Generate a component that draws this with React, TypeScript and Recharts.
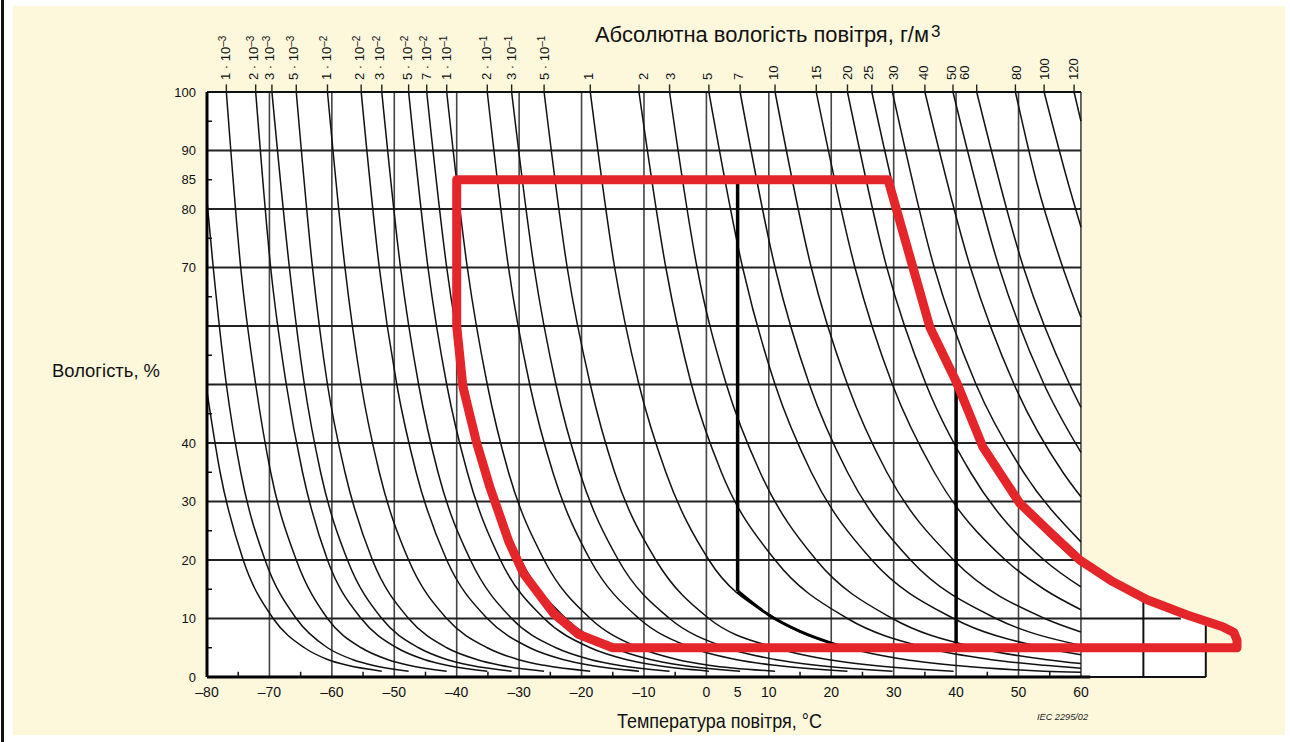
import React from 'react';
import { ComposedChart, Line, Area, XAxis, YAxis, ReferenceLine } from 'recharts';

const W = 1290;
const H = 742;

const SANS = "'Liberation Sans', Arial, sans-serif";
const NARROW = "'Liberation Sans Narrow', 'Arial Narrow', 'Liberation Sans', sans-serif";

// осі: температура, °C / вологість, %
const X_TICKS = [-80, -70, -60, -50, -40, -30, -20, -10, 0, 5, 10, 20, 30, 40, 50, 60];
const X_MINOR = [-75, -65, -55, -45, -35, -25, -15, -5, 15, 25, 35, 45, 55];
const X_GRID = [-70, -60, -50, -40, -30, -20, -10, 0, 10, 20, 30, 40, 50, 60];
const Y_TICKS = [0, 10, 20, 30, 40, 70, 80, 85, 90, 100];
const Y_GRID = [10, 20, 30, 40, 50, 60, 70, 80, 90];
const Y_MINOR = [5, 15, 25, 35, 45, 55, 65, 75, 85, 95];

// підписи абсолютної вологості (г/м3) зверху
const ABS_BASE = ['1 · 10', '2 · 10', '3 · 10', '5 · 10', '1 · 10', '2 · 10', '3 · 10', '5 · 10', '7 · 10', '1 · 10',
  '2 · 10', '3 · 10', '5 · 10', '1', '2', '3', '5', '7', '10', '15', '20', '25', '30', '40', '50', '60', '80', '100', '120'];
const ABS_EXP = ['–3', '–3', '–3', '–3', '–2', '–2', '–2', '–2', '–2', '–1', '–1', '–1', '–1',
  '', '', '', '', '', '', '', '', '', '', '', '', '', '', '', ''];
const ABS_LABEL_T = [-77.1, -72.6, -70.0, -66.2, -60.9, -55.5, -52.4, -47.9, -44.8, -41.7, -35.3, -31.2, -25.9,
  -18.9, -10.1, -5.8, 0.2, 5.2, 10.7, 17.7, 22.6, 26.0, 30.0, 34.8, 39.3, 41.4, 49.7, 54.2, 58.8];

// лінії сталої абсолютної вологості: [температура, вологість]
const CURVES: number[][][] = [
  [[-80, 48.8], [-77.9, 35], [-74.2, 20], [-69.4, 10], [-64.4, 5], [-60.7, 3], [-57.5, 2], [-52.0, 1]], // 3e-4
  [[-80, 81.4], [-79.0, 70], [-76.9, 50], [-74.6, 35], [-70.7, 20], [-65.7, 10], [-60.7, 5], [-56.7, 3], [-53.5, 2], [-47.7, 1]], // 5e-4
  [[-76.9, 100], [-74.6, 70], [-72.2, 50], [-69.8, 35], [-65.7, 20], [-60.7, 10], [-55.3, 5], [-51.1, 3], [-47.7, 2], [-41.6, 1]], // 1e-3
  [[-72.2, 100], [-69.8, 70], [-67.3, 50], [-64.7, 35], [-60.7, 20], [-55.3, 10], [-49.6, 5], [-45.2, 3], [-41.6, 2], [-35.1, 1]], // 2e-3
  [[-69.6, 100], [-66.8, 70], [-64.4, 50], [-61.8, 35], [-57.5, 20], [-52.0, 10], [-46.1, 5], [-41.6, 3], [-37.8, 2], [-31.2, 1]], // 3e-3
  [[-65.7, 100], [-63.1, 70], [-60.7, 50], [-57.9, 35], [-53.5, 20], [-47.7, 10], [-41.6, 5], [-36.8, 3], [-33.0, 2], [-26.0, 1]], // 5e-3
  [[-60.7, 100], [-57.9, 70], [-55.3, 50], [-52.4, 35], [-47.7, 20], [-41.6, 10], [-35.1, 5], [-30.2, 3], [-26.0, 2], [-18.6, 1]], // 1e-2
  [[-55.3, 100], [-52.4, 70], [-49.6, 50], [-46.5, 35], [-41.6, 20], [-35.1, 10], [-28.3, 5], [-23.0, 3], [-18.6, 2], [-10.8, 1]], // 2e-2
  [[-52.0, 100], [-49.0, 70], [-46.1, 50], [-43.0, 35], [-37.8, 20], [-31.2, 10], [-24.1, 5], [-18.6, 3], [-14.1, 2], [-5.9, 1]], // 3e-2
  [[-47.7, 100], [-44.6, 70], [-41.6, 50], [-38.3, 35], [-33.0, 20], [-26.0, 10], [-18.6, 5], [-12.9, 3], [-8.1, 2], [0.4, 1]], // 5e-2
  [[-44.8, 100], [-41.6, 70], [-38.5, 50], [-35.1, 35], [-29.7, 20], [-22.5, 10], [-14.9, 5], [-9.0, 3], [-4.0, 2], [5.4, 1]], // 7e-2
  [[-41.6, 100], [-38.3, 70], [-35.1, 50], [-31.7, 35], [-26.0, 20], [-18.6, 10], [-10.8, 5], [-4.7, 3], [0.4, 2], [11.0, 1]], // 0.1
  [[-35.1, 100], [-31.7, 70], [-28.3, 50], [-24.6, 35], [-18.6, 20], [-10.8, 10], [-2.4, 5], [4.7, 3], [11.0, 2], [22.6, 1]], // 0.2
  [[-31.2, 100], [-27.6, 70], [-24.1, 50], [-20.3, 35], [-14.1, 20], [-5.9, 10], [3.2, 5], [11.0, 3], [17.6, 2], [29.8, 1]], // 0.3
  [[-26.0, 100], [-22.3, 70], [-18.6, 50], [-14.7, 35], [-8.1, 20], [0.4, 10], [11.0, 5], [19.4, 3], [26.5, 2], [39.6, 1]], // 0.5
  [[-18.6, 100], [-14.7, 70], [-10.8, 50], [-6.5, 35], [0.4, 20], [11.0, 10], [22.6, 5], [31.8, 3], [39.6, 2], [54.1, 1], [60, 0.8]], // 1
  [[-10.8, 100], [-6.5, 70], [-2.4, 50], [2.4, 35], [11.0, 20], [22.6, 10], [35.2, 5], [45.4, 3], [54.1, 2], [60, 1.5]], // 2
  [[-5.9, 100], [-1.5, 70], [3.2, 50], [8.6, 35], [17.6, 20], [29.8, 10], [43.3, 5], [54.2, 3], [60, 2.3]], // 3
  [[0.4, 100], [5.8, 70], [11.0, 50], [16.8, 35], [26.5, 20], [39.6, 10], [54.1, 5], [60, 3.8]], // 5
  [[5.4, 100], [11.0, 70], [16.5, 50], [22.6, 35], [32.7, 20], [46.4, 10], [60, 5.4]], // 7
  [[11.0, 100], [16.8, 70], [22.6, 50], [28.9, 35], [39.6, 20], [54.2, 10], [60, 7.7]], // 10
  [[17.6, 100], [23.8, 70], [29.8, 50], [36.5, 35], [47.9, 20], [54.1, 15], [60, 11.5]], // 15
  [[22.6, 100], [28.9, 70], [35.2, 50], [42.3, 35], [54.1, 20], [60, 15.4]], // 20
  [[26.5, 100], [33.1, 70], [39.6, 50], [46.9, 35], [54.1, 25], [60, 19.2]], // 25
  [[29.8, 100], [36.5, 70], [43.2, 50], [50.8, 35], [60, 23.1]], // 30
  [[35.0, 100], [42.3, 70], [49.3, 50], [57.1, 35], [60, 30.8]], // 40
  [[39.5, 100], [46.9, 70], [54.1, 50], [60, 38.4]], // 50
  [[43.3, 100], [50.8, 70], [58.2, 50], [60, 46.1]], // 60
  [[49.5, 100], [52.8, 85], [57.1, 70], [60, 61.5]], // 80
  [[54.1, 100], [57.8, 85], [60, 76.9]], // 100
  [[58.9, 100], [60, 95.0]], // 120
];

// червоний контур
const RED_T = [-40, 29.1, 35.8, 40.1, 44.3, 50.2, 55.0, 59.8, 65.1, 70.6, 77.0, 82.7, 84.5, 85.0, 85.0,
  -15.0, -20.5, -24.5, -29.3, -31.6, -34.7, -36.8, -39.0, -40, -40];
const RED_RH = [85, 85, 59.8, 50.3, 39.3, 29.7, 24.8, 20.0, 16.3, 13.2, 10.6, 8.6, 7.6, 6.3, 5.0,
  5.0, 7.3, 10.9, 17.7, 23, 32.5, 40, 49.6, 60, 85];

// білий фон під кривою праворуч від 60 °C
const WHITE_T = [60, 65.1, 70.6, 77.0, 80];
const WHITE_RH = [20, 16.3, 13.2, 10.6, 9.6];

// чорні лінії
const BLACK_5_RH = [85, 14.7];
const BLACK_40_RH = [50, 5];
const BLACK_CURVE_T = [5, 10, 15, 20, 21.5];
const BLACK_CURVE_RH = [14.7, 10.6, 7.8, 5.8, 5.3];

const pts = (arr: number[][]) => arr.map(([t, rh]) => ({ t, rh }));
const zip = (ts: number[], rs: number[]) => ts.map((t, i) => ({ t, rh: rs[i] }));
const seg = (t1: number, r1: number, t2: number, r2: number) => [{ t: t1, rh: r1 }, { t: t2, rh: r2 }];

const lineProps = { dataKey: 'rh', dot: false, activeDot: false, isAnimationActive: false, legendType: 'none' as const };

const fmtX = (v: number) => (v < 0 ? '–' + Math.abs(v) : String(v));

function BottomTick(props: any) {
  const { x, y, payload } = props;
  return (
    <text x={x} y={y + 12} textAnchor="middle" fontFamily={SANS} fontSize={14} fill="#111">
      {fmtX(payload.value)}
    </text>
  );
}

function LeftTick(props: any) {
  const { x, y, payload } = props;
  return (
    <text x={x - 3} y={y + 4.5} textAnchor="end" fontFamily={SANS} fontSize={13} fill="#111">
      {payload.value}
    </text>
  );
}

function TopTick(props: any) {
  const { x, payload } = props;
  const i = ABS_LABEL_T.indexOf(payload.value);
  return (
    <text transform={`translate(${x + 4.5},80) rotate(-90)`} fontFamily={SANS} fontSize={13} fill="#111">
      {ABS_BASE[i]}
      {ABS_EXP[i] ? (
        <tspan fontSize={10} dy={-4}>{ABS_EXP[i]}</tspan>
      ) : null}
    </text>
  );
}

export default function App() {
  const curveTops = CURVES.filter((c) => c[0][1] === 100).map((c) => c[0][0]);
  return (
    <div style={{ position: 'absolute', left: 0, top: 0, width: W, height: H, background: '#fff', overflow: 'hidden' }}>
      <div style={{ position: 'absolute', left: 1, top: 0, width: 3, height: H, background: '#111' }} />
      <div style={{ position: 'absolute', left: 13, top: 6, width: 1272, height: 729, background: '#fdf8dc' }} />
      <div style={{ position: 'absolute', left: 0, top: 0 }}>
        <ComposedChart width={W} height={H} margin={{ top: 62, right: 40.5, bottom: 35, left: 147 }}>
          <XAxis dataKey="t" type="number" domain={[-80, 87]} ticks={X_TICKS} interval={0} height={30}
            axisLine={false} tickLine={false} tick={(p: any) => <BottomTick {...p} />} />
          <XAxis xAxisId="top" orientation="top" dataKey="t" type="number" domain={[-80, 87]} allowDataOverflow
            ticks={ABS_LABEL_T} interval={0} height={30} axisLine={false} tickLine={false}
            tick={(p: any) => <TopTick {...p} />} />
          <YAxis type="number" domain={[0, 100]} ticks={Y_TICKS} interval={0} width={60}
            axisLine={{ stroke: '#000', strokeWidth: 3 }} tickLine={false} tick={(p: any) => <LeftTick {...p} />} />

          <Area data={[{ t: -80, rh: 100 }, { t: 60, rh: 100 }]} dataKey="rh" type="linear" fill="#fff" fillOpacity={1}
            stroke="none" dot={false} activeDot={false} isAnimationActive={false} />
          <Area data={zip(WHITE_T, WHITE_RH)} dataKey="rh" type="linear" fill="#fff" fillOpacity={1}
            stroke="none" dot={false} activeDot={false} isAnimationActive={false} />

          {X_GRID.map((t) => (
            <Line key={'vx' + t} {...lineProps} data={seg(t, 0, t, 100)} type="linear" stroke="#444" strokeWidth={1.6} />
          ))}
          {Y_GRID.map((r) => (
            <Line key={'hy' + r} {...lineProps} data={seg(-80, r, 60, r)} type="linear" stroke="#222" strokeWidth={2} />
          ))}
          <Line {...lineProps} data={seg(-80, 100, 60, 100)} type="linear" stroke="#111" strokeWidth={2} />

          {CURVES.map((c, i) => (
            <Line key={'c' + i} {...lineProps} data={pts(c)} type="monotone" stroke="#111" strokeWidth={1.5} />
          ))}

          <Line {...lineProps} data={seg(-80, 0, 61.5, 0)} type="linear" stroke="#000" strokeWidth={3} />
          <Line {...lineProps} data={seg(60, 0, 80, 0)} type="linear" stroke="#111" strokeWidth={2} />
          <Line {...lineProps} data={seg(60, 10, 76, 10)} type="linear" stroke="#111" strokeWidth={2} />
          <Line {...lineProps} data={seg(70, 0, 70, 13)} type="linear" stroke="#111" strokeWidth={2} />
          <Line {...lineProps} data={seg(80, 0, 80, 9.2)} type="linear" stroke="#111" strokeWidth={2} />

          <Line {...lineProps} data={seg(5, BLACK_5_RH[0], 5, BLACK_5_RH[1])} type="linear" stroke="#000" strokeWidth={3.5} />
          <Line {...lineProps} data={zip(BLACK_CURVE_T, BLACK_CURVE_RH)} type="monotone" stroke="#000" strokeWidth={3} />
          <Line {...lineProps} data={seg(40, BLACK_40_RH[0], 40, BLACK_40_RH[1])} type="linear" stroke="#000" strokeWidth={3.5} />

          <Line {...lineProps} data={zip(RED_T, RED_RH)} type="linear" stroke="#e4262b" strokeWidth={9}
            strokeLinejoin="round" strokeLinecap="round" />

          {curveTops.map((t) => (
            <ReferenceLine key={'tt' + t} segment={[{ x: t, y: 100 }, { x: t, y: 101.3 }]} ifOverflow="visible"
              stroke="#222" strokeWidth={1.4} />
          ))}
          {Y_MINOR.map((r) => (
            <ReferenceLine key={'my' + r} segment={[{ x: -80, y: r }, { x: -79.2, y: r }]} ifOverflow="visible"
              stroke="#111" strokeWidth={1.5} />
          ))}
          {X_MINOR.map((t) => (
            <ReferenceLine key={'mx' + t} segment={[{ x: t, y: 0 }, { x: t, y: 0.9 }]} ifOverflow="visible"
              stroke="#111" strokeWidth={1.5} />
          ))}
        </ComposedChart>
      </div>
      <svg width={W} height={H} style={{ position: 'absolute', left: 0, top: 0, pointerEvents: 'none' }}>
        <text x={595} y={42} fontFamily={NARROW} fontSize={22} fill="#111" textLength={334} lengthAdjust="spacingAndGlyphs">
          Абсолютна вологість повітря, г/м
        </text>
        <text x={931} y={37} fontFamily={NARROW} fontSize={17} fill="#111">3</text>
        <text x={52} y={377} fontFamily={NARROW} fontSize={18} fill="#111" textLength={108} lengthAdjust="spacingAndGlyphs">
          Вологість, %
        </text>
        <text x={617} y={728} fontFamily={NARROW} fontSize={21} fill="#111" textLength={205} lengthAdjust="spacingAndGlyphs">
          Температура повітря, °C
        </text>
        <text x={1037} y={720} fontFamily={SANS} fontSize={9} fontStyle="italic" fill="#222" textLength={51} lengthAdjust="spacingAndGlyphs">
          IEC 2295/02
        </text>
      </svg>
    </div>
  );
}
